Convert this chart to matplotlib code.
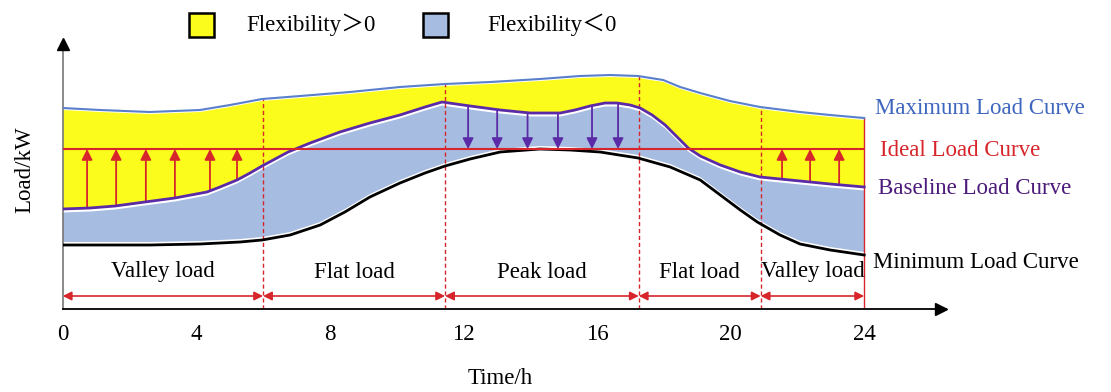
import numpy as np
import matplotlib.pyplot as plt
from matplotlib.patches import Rectangle

plt.rcParams['font.family'] = ['Liberation Serif', 'Noto Sans CJK SC', 'DejaVu Sans']

# curves (time in h, load in arbitrary units)
max_h = [0, 1.12, 2.61, 4.11, 5.01, 5.97, 7.11, 8.60, 10.10, 11.45, 12.80, 14.29,
         15.49, 16.39, 17.23, 17.98, 18.49, 19.09, 19.98, 20.88, 22.08, 22.98, 24]
max_load = [201, 199, 197, 199, 204, 210, 213, 217, 222, 225, 227, 230,
            233, 234, 233, 229, 222, 216, 208, 202, 197, 194, 191]

base_h = [0, 0.82, 1.57, 2.46, 3.36, 4.32, 4.71, 5.22, 5.61, 5.97, 6.36, 6.75, 7.41,
          8.30, 9.20, 10.10, 10.85, 11.36, 12.20, 13.10, 14.00, 14.90, 15.34, 15.79,
          16.24, 16.60, 16.99, 17.29, 17.65, 18.04, 18.40, 18.73, 19.09, 19.69,
          20.29, 20.88, 22.08, 22.98, 24]
base_load = [100, 101, 103, 107, 111, 117, 122, 129, 136, 143, 150, 157, 166,
             177, 186, 194, 202, 207, 203, 199, 196, 196, 199, 203,
             206, 206, 204, 201, 194, 184, 172, 161, 153, 144,
             137, 132, 128, 125, 122]

min_h = [0, 2.61, 4.11, 5.31, 5.97, 6.81, 7.71, 8.45, 9.20, 10.10, 10.85, 11.45,
         12.20, 13.10, 14.29, 15.19, 16.09, 17.23, 18.19, 19.09, 19.69, 20.29,
         20.80, 21.48, 22.08, 22.98, 24]
min_load = [64, 64, 65, 67, 69, 74, 84, 97, 112, 126, 136, 143,
            150, 157, 160, 159, 157, 151, 142, 129, 114, 99,
            87, 74, 65, 59, 54]

ideal_load = 160

up_h_left = [0.73, 1.60, 2.49, 3.36, 4.41, 5.22]
up_h_right = [21.54, 22.38, 23.25]
down_h = [12.14, 13.01, 13.92, 14.83, 15.85, 16.63]

bounds = [0, 6.0, 11.45, 17.25, 20.9, 24]
periods = ['Valley load', 'Flat load', 'Peak load', 'Flat load', 'Valley load']
xticks = [0, 4, 8, 12, 16, 20, 24]

RED = '#d7262b'
PURPLE = '#5b2aa6'
BLUE = '#5a80cc'
YELLOW = '#fbfb1c'
LBLUE = '#a6bce0'

max_h, max_load = np.array(max_h), np.array(max_load)
base_h, base_load = np.array(base_h), np.array(base_load)
min_h, min_load = np.array(min_h), np.array(min_load)

fig = plt.figure(figsize=(11.11, 3.92), dpi=100)
ax = fig.add_axes([62.7 / 1111, 1 - 309 / 392, 883.3 / 1111, 268 / 392])
ax.set_xlim(0, 26.45)
ax.set_ylim(0, 268)

# flexibility areas
ax.fill(np.r_[max_h, base_h[::-1]], np.r_[max_load - 2, base_load[::-1]],
        color=YELLOW, lw=0, zorder=1)
ax.fill(np.r_[base_h, min_h[::-1]], np.r_[base_load - 3.5, min_load[::-1] + 3],
        color=LBLUE, lw=0, zorder=1)

# period boundaries
for b in bounds[1:-1]:
    top = np.interp(b, max_h, max_load)
    ax.plot([b, b], [0, top], color=RED, lw=1, ls=(0, (3, 2)), zorder=2)
ax.plot([24, 24], [0, max_load[-1]], color=RED, lw=1, zorder=2)

# curves
ax.plot(max_h, max_load, color=BLUE, lw=1.5, zorder=4)
ax.plot(base_h, base_load, color=PURPLE, lw=2, zorder=4)
ax.plot(min_h, min_load, color='black', lw=2, zorder=4)
ax.plot([0, 24], [ideal_load, ideal_load], color=RED, lw=1.5, zorder=4)

# shifting arrows
for h in up_h_left + up_h_right:
    y0 = np.interp(h, base_h, base_load)
    ax.annotate('', xy=(h, ideal_load), xytext=(h, y0), zorder=3,
                arrowprops=dict(arrowstyle='-|>', color=RED, lw=1.3,
                                mutation_scale=16, shrinkA=0, shrinkB=0))
for h in down_h:
    y0 = np.interp(h, base_h, base_load)
    ax.annotate('', xy=(h, ideal_load), xytext=(h, y0), zorder=3,
                arrowprops=dict(arrowstyle='-|>', color=PURPLE, lw=1.3,
                                mutation_scale=16, shrinkA=0, shrinkB=0))

# period arrows and labels
for i, name in enumerate(periods):
    a, b = bounds[i], bounds[i + 1]
    ax.annotate('', xy=(b, 13), xytext=(a, 13),
                arrowprops=dict(arrowstyle='<|-|>', color=RED, lw=1.2,
                                mutation_scale=13, shrinkA=0, shrinkB=0))
    ax.text((a + b) / 2, 37, name, ha='center', va='center', fontsize=16.5)

# curve names
ax.text(24.33, 201, 'Maximum Load Curve', color='#3f66be', fontsize=16.5, va='center', clip_on=False)
ax.text(24.48, 158, 'Ideal Load Curve', color=RED, fontsize=16.5, va='center', clip_on=False)
ax.text(24.42, 120, 'Baseline Load Curve', color='#4b1a7a', fontsize=16.5, va='center', clip_on=False)
ax.text(24.27, 46, 'Minimum Load Curve', color='black', fontsize=16.5, va='center', clip_on=False)

# axes with arrows
for s in ['top', 'right']:
    ax.spines[s].set_visible(False)
ax.spines['left'].set_color('#777777')
ax.spines['left'].set_linewidth(1.2)
ax.spines['bottom'].set_linewidth(1.3)
ax.plot(26.3, 0, '>', color='black', ms=9, clip_on=False, zorder=5)
ax.plot(0, 265, '^', color='black', ms=9, clip_on=False, zorder=5)
ax.set_yticks([])
ax.set_xticks(xticks)
ax.set_xticklabels([str(t) for t in xticks], fontsize=16.5)
ax.tick_params(axis='x', length=0, pad=11)

fig.text(500 / 1111, 1 - 378 / 392, 'Time/h', ha='center', va='center', fontsize=16.5)
fig.text(25 / 1111, 1 - 170 / 392, 'Load/kW', ha='center', va='center', rotation=90, fontsize=16.5)

# legend
fig.patches.append(Rectangle((189 / 1111, 1 - 37 / 392), 25 / 1111, 24 / 392,
                             transform=fig.transFigure, facecolor=YELLOW,
                             edgecolor='black', lw=1.8))
fig.patches.append(Rectangle((423 / 1111, 1 - 37 / 392), 25 / 1111, 24 / 392,
                             transform=fig.transFigure, facecolor=LBLUE,
                             edgecolor='black', lw=1.8))
fig.text(246 / 1111, 1 - 25 / 392, 'Flexibility＞0', ha='left', va='center', fontsize=16.5)
fig.text(487 / 1111, 1 - 25 / 392, 'Flexibility＜0', ha='left', va='center', fontsize=16.5)

fig.savefig('out.png', dpi=100)
